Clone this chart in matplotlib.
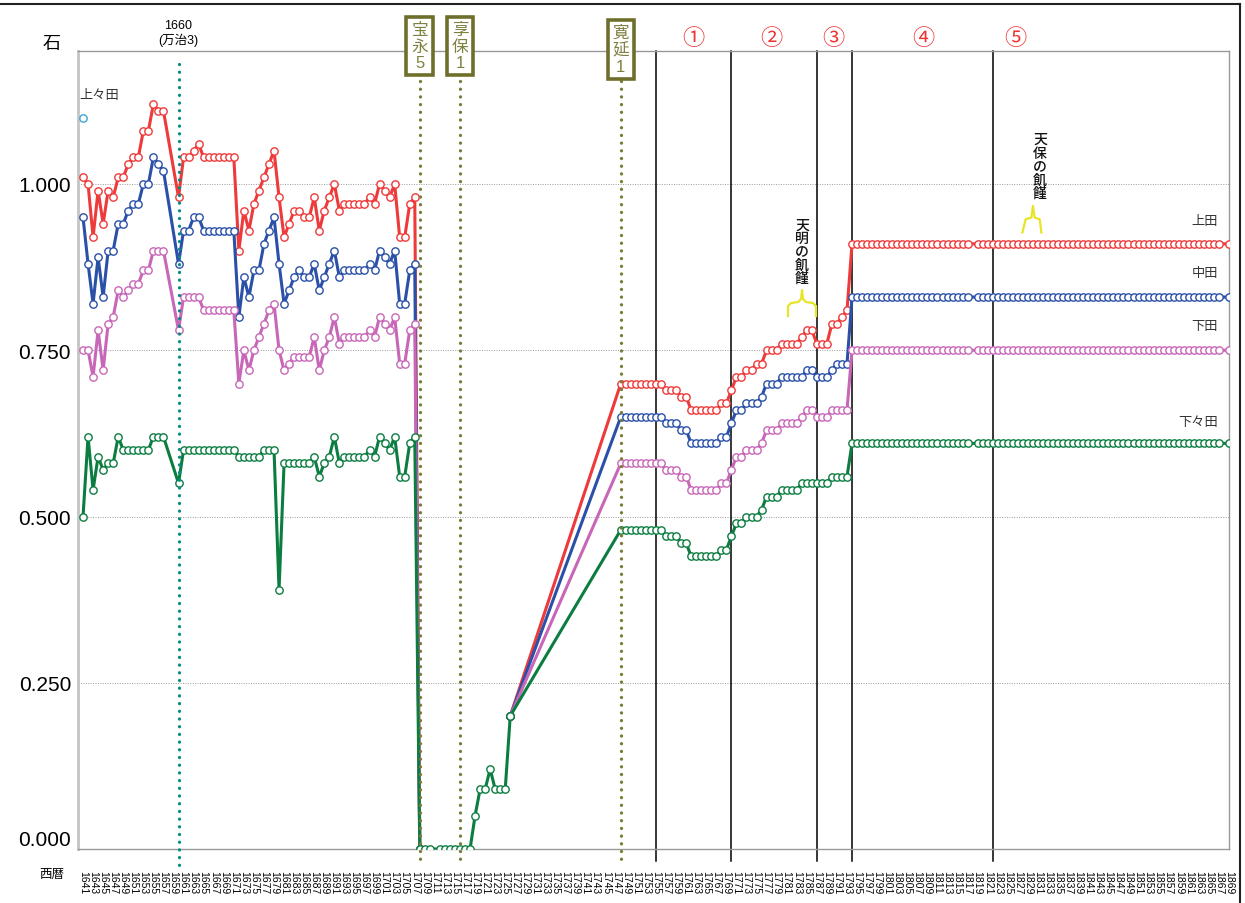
import numpy as np
import matplotlib.pyplot as plt
import matplotlib.transforms as mtransforms
from matplotlib.lines import Line2D

plt.rcParams['font.family'] = ['Liberation Sans', 'Noto Sans CJK JP', 'DejaVu Sans']

# ---------------- data (石) ----------------
# 1641-1708, nothing recorded for 1658-1659
early_years = list(range(1641, 1658)) + list(range(1660, 1709))

red_early = [1.01, 1.00, 0.92, 0.99, 0.94, 0.99, 0.98, 1.01, 1.01, 1.03,
             1.04, 1.04, 1.08, 1.08, 1.12, 1.11, 1.11,
             0.98, 1.04, 1.04, 1.05, 1.06, 1.04, 1.04, 1.04, 1.04, 1.04,
             1.04, 1.04, 0.90, 0.96, 0.93, 0.97, 0.99, 1.01, 1.03, 1.05,
             0.98, 0.92, 0.94, 0.96, 0.96, 0.95, 0.95, 0.98, 0.93, 0.96,
             0.98, 1.00, 0.96, 0.97, 0.97, 0.97, 0.97, 0.97, 0.98, 0.97,
             1.00, 0.99, 0.98, 1.00, 0.92, 0.92, 0.97, 0.98, 0.00]
blue_early = [0.95, 0.88, 0.82, 0.89, 0.83, 0.90, 0.90, 0.94, 0.94, 0.96,
              0.97, 0.97, 1.00, 1.00, 1.04, 1.03, 1.02,
              0.88, 0.93, 0.93, 0.95, 0.95, 0.93, 0.93, 0.93, 0.93, 0.93,
              0.93, 0.93, 0.80, 0.86, 0.83, 0.87, 0.87, 0.91, 0.93, 0.95,
              0.88, 0.82, 0.84, 0.86, 0.87, 0.86, 0.86, 0.88, 0.84, 0.86,
              0.88, 0.90, 0.86, 0.87, 0.87, 0.87, 0.87, 0.87, 0.88, 0.87,
              0.90, 0.89, 0.88, 0.90, 0.82, 0.82, 0.87, 0.88, 0.00]
purple_early = [0.75, 0.75, 0.71, 0.78, 0.72, 0.79, 0.80, 0.84, 0.83, 0.84,
                0.85, 0.85, 0.87, 0.87, 0.90, 0.90, 0.90,
                0.78, 0.83, 0.83, 0.83, 0.83, 0.81, 0.81, 0.81, 0.81, 0.81,
                0.81, 0.81, 0.70, 0.75, 0.72, 0.75, 0.77, 0.79, 0.81, 0.82,
                0.75, 0.72, 0.73, 0.74, 0.74, 0.74, 0.74, 0.77, 0.72, 0.75,
                0.77, 0.80, 0.76, 0.77, 0.77, 0.77, 0.77, 0.77, 0.78, 0.77,
                0.80, 0.79, 0.78, 0.80, 0.73, 0.73, 0.78, 0.79, 0.00]
green_early = [0.50, 0.62, 0.54, 0.59, 0.57, 0.58, 0.58, 0.62, 0.60, 0.60,
               0.60, 0.60, 0.60, 0.60, 0.62, 0.62, 0.62,
               0.55, 0.60, 0.60, 0.60, 0.60, 0.60, 0.60, 0.60, 0.60, 0.60,
               0.60, 0.60, 0.59, 0.59, 0.59, 0.59, 0.59, 0.60, 0.60, 0.60,
               0.39, 0.58, 0.58, 0.58, 0.58, 0.58, 0.58, 0.59, 0.56, 0.58,
               0.59, 0.62, 0.58, 0.59, 0.59, 0.59, 0.59, 0.59, 0.60, 0.59,
               0.62, 0.61, 0.60, 0.62, 0.56, 0.56, 0.61, 0.62, 0.00]

# 下々田 only, 1708-1726 (1711 missing)
mid_years = [1708, 1709, 1710] + list(range(1712, 1727))
green_mid = [0.00, 0.00, 0.00, 0.00, 0.00, 0.00, 0.00, 0.00, 0.00, 0.00,
             0.05, 0.09, 0.09, 0.12, 0.09, 0.09, 0.09, 0.20]

# 1726, then 1748-1793
step_years = [1726] + list(range(1748, 1794))
red_steps = [0.20,
             0.70, 0.70, 0.70, 0.70, 0.70, 0.70, 0.70, 0.70, 0.70, 0.69,
             0.69, 0.69, 0.68, 0.68, 0.66, 0.66, 0.66, 0.66, 0.66, 0.66,
             0.67, 0.67, 0.69, 0.71, 0.71, 0.72, 0.72, 0.73, 0.73, 0.75,
             0.75, 0.75, 0.76, 0.76, 0.76, 0.76, 0.77, 0.78, 0.78, 0.76,
             0.76, 0.76, 0.79, 0.79, 0.80, 0.81]
blue_steps = [0.20,
              0.65, 0.65, 0.65, 0.65, 0.65, 0.65, 0.65, 0.65, 0.65, 0.64,
              0.64, 0.64, 0.63, 0.63, 0.61, 0.61, 0.61, 0.61, 0.61, 0.61,
              0.62, 0.62, 0.64, 0.66, 0.66, 0.67, 0.67, 0.67, 0.68, 0.70,
              0.70, 0.70, 0.71, 0.71, 0.71, 0.71, 0.71, 0.72, 0.72, 0.71,
              0.71, 0.71, 0.72, 0.73, 0.73, 0.73]
purple_steps = [0.20,
                0.58, 0.58, 0.58, 0.58, 0.58, 0.58, 0.58, 0.58, 0.58, 0.57,
                0.57, 0.57, 0.56, 0.56, 0.54, 0.54, 0.54, 0.54, 0.54, 0.54,
                0.55, 0.55, 0.57, 0.59, 0.59, 0.60, 0.60, 0.60, 0.61, 0.63,
                0.63, 0.63, 0.64, 0.64, 0.64, 0.64, 0.65, 0.66, 0.66, 0.65,
                0.65, 0.65, 0.66, 0.66, 0.66, 0.66]
green_steps = [0.20,
               0.48, 0.48, 0.48, 0.48, 0.48, 0.48, 0.48, 0.48, 0.48, 0.47,
               0.47, 0.47, 0.46, 0.46, 0.44, 0.44, 0.44, 0.44, 0.44, 0.44,
               0.45, 0.45, 0.47, 0.49, 0.49, 0.50, 0.50, 0.50, 0.51, 0.53,
               0.53, 0.53, 0.54, 0.54, 0.54, 0.54, 0.55, 0.55, 0.55, 0.55,
               0.55, 0.55, 0.56, 0.56, 0.56, 0.56]

# 1794-1869 (1818 and 1868 missing)
plateau_years = list(range(1794, 1818)) + list(range(1819, 1868)) + [1869]
red_plateau = [0.91, 0.91, 0.91, 0.91, 0.91, 0.91, 0.91, 0.91, 0.91, 0.91, 0.91, 0.91, 0.91, 0.91, 0.91,
               0.91, 0.91, 0.91, 0.91, 0.91, 0.91, 0.91, 0.91, 0.91, 0.91, 0.91, 0.91, 0.91, 0.91, 0.91,
               0.91, 0.91, 0.91, 0.91, 0.91, 0.91, 0.91, 0.91, 0.91, 0.91, 0.91, 0.91, 0.91, 0.91, 0.91,
               0.91, 0.91, 0.91, 0.91, 0.91, 0.91, 0.91, 0.91, 0.91, 0.91, 0.91, 0.91, 0.91, 0.91, 0.91,
               0.91, 0.91, 0.91, 0.91, 0.91, 0.91, 0.91, 0.91, 0.91, 0.91, 0.91, 0.91, 0.91, 0.91]
blue_plateau = [0.83, 0.83, 0.83, 0.83, 0.83, 0.83, 0.83, 0.83, 0.83, 0.83, 0.83, 0.83, 0.83, 0.83, 0.83,
                0.83, 0.83, 0.83, 0.83, 0.83, 0.83, 0.83, 0.83, 0.83, 0.83, 0.83, 0.83, 0.83, 0.83, 0.83,
                0.83, 0.83, 0.83, 0.83, 0.83, 0.83, 0.83, 0.83, 0.83, 0.83, 0.83, 0.83, 0.83, 0.83, 0.83,
                0.83, 0.83, 0.83, 0.83, 0.83, 0.83, 0.83, 0.83, 0.83, 0.83, 0.83, 0.83, 0.83, 0.83, 0.83,
                0.83, 0.83, 0.83, 0.83, 0.83, 0.83, 0.83, 0.83, 0.83, 0.83, 0.83, 0.83, 0.83, 0.83]
purple_plateau = [0.75, 0.75, 0.75, 0.75, 0.75, 0.75, 0.75, 0.75, 0.75, 0.75, 0.75, 0.75, 0.75, 0.75, 0.75,
                  0.75, 0.75, 0.75, 0.75, 0.75, 0.75, 0.75, 0.75, 0.75, 0.75, 0.75, 0.75, 0.75, 0.75, 0.75,
                  0.75, 0.75, 0.75, 0.75, 0.75, 0.75, 0.75, 0.75, 0.75, 0.75, 0.75, 0.75, 0.75, 0.75, 0.75,
                  0.75, 0.75, 0.75, 0.75, 0.75, 0.75, 0.75, 0.75, 0.75, 0.75, 0.75, 0.75, 0.75, 0.75, 0.75,
                  0.75, 0.75, 0.75, 0.75, 0.75, 0.75, 0.75, 0.75, 0.75, 0.75, 0.75, 0.75, 0.75, 0.75]
green_plateau = [0.61, 0.61, 0.61, 0.61, 0.61, 0.61, 0.61, 0.61, 0.61, 0.61, 0.61, 0.61, 0.61, 0.61, 0.61,
                 0.61, 0.61, 0.61, 0.61, 0.61, 0.61, 0.61, 0.61, 0.61, 0.61, 0.61, 0.61, 0.61, 0.61, 0.61,
                 0.61, 0.61, 0.61, 0.61, 0.61, 0.61, 0.61, 0.61, 0.61, 0.61, 0.61, 0.61, 0.61, 0.61, 0.61,
                 0.61, 0.61, 0.61, 0.61, 0.61, 0.61, 0.61, 0.61, 0.61, 0.61, 0.61, 0.61, 0.61, 0.61, 0.61,
                 0.61, 0.61, 0.61, 0.61, 0.61, 0.61, 0.61, 0.61, 0.61, 0.61, 0.61, 0.61, 0.61, 0.61]

# 上々田: a single value
top_year = [1641]
top_value = [1.10]

series_names = ['上田', '中田', '下田', '下々田']
series_colors = ['#ee3a3a', '#2a50a8', '#c867b8', '#0b7d40']
name_pos = [(1866.8, 0.944), (1866.8, 0.866), (1866.8, 0.786), (1866.8, 0.642)]

tick_years = list(range(1641, 1870, 2))

# periods: black separators and circled numbers
period_lines = [1755, 1770, 1787, 1794, 1822]
period_marks = ['①', '②', '③', '④', '⑤']
period_mark_x = [1762.4, 1777.9, 1790.2, 1808.1, 1826.4]

# era boxes
era_years = [1708, 1716, 1748]
era_names = ['宝\n永\n5', '享\n保\n1', '寛\n延\n1']

# ---------------- figure ----------------
fig = plt.figure(figsize=(12.45, 9.04), dpi=100)
ax = fig.add_axes([78/1245, 1 - 850/904, (1229 - 78)/1245, (850 - 52)/904])
ax.set_xlim(1640, 1869)
ax.set_ylim(0, 1.2)

style = dict(lw=2.2, marker='o', ms=5.3, mfc='white', mew=1.0, solid_joinstyle='miter')

early_sets = [red_early, blue_early, purple_early, green_early]
step_sets = [red_steps, blue_steps, purple_steps, green_steps]
plateau_sets = [red_plateau, blue_plateau, purple_plateau, green_plateau]
for i, c in enumerate(series_colors):
    ax.plot(early_years, early_sets[i], color=c, mec=c, zorder=3 + i, **style)
    ax.plot(step_years + plateau_years, step_sets[i] + plateau_sets[i],
            color=c, mec=c, zorder=3 + i, **style)
ax.plot(mid_years, green_mid, color=series_colors[3], mec=series_colors[3], zorder=7, **style)
ax.plot(top_year, top_value, ls='none', marker='o', ms=5.3, mfc='white', mec='#3aa6d8', mew=1.0, zorder=7)

# series names
for name, (xx, yy) in zip(series_names, name_pos):
    ax.text(xx, yy, name, ha='right', va='center', fontsize=9.5, color='#333333')
ax.text(1640.3, 1.134, '上々田', ha='left', va='center', fontsize=9.5, color='#333333')

# axes cosmetics
ax.set_yticks([0, 0.25, 0.5, 0.75, 1.0])
ax.set_yticklabels(['0.000', '0.250', '0.500', '0.750', '1.000'])
ax.tick_params(axis='y', length=0, pad=5, labelsize=15)
ax.yaxis.get_ticklabels()[0].set_verticalalignment('bottom')
ax.yaxis.grid(True, linestyle=(0, (1, 1.5)), color='#9a9a9a', lw=0.7)
ax.set_xticks(tick_years)
ax.set_xticklabels([str(y) for y in tick_years], rotation=-90, fontsize=7.5)
ax.tick_params(axis='x', length=0, pad=15)
for side in ['top', 'right', 'bottom']:
    ax.spines[side].set_color('#999999')
    ax.spines[side].set_linewidth(1.0)
ax.spines['left'].set_color('#c4c4c4')
ax.spines['left'].set_linewidth(2.0)

xt = ax.get_xaxis_transform()

# 1660 line
ax.plot([1660, 1660], [0.984, -0.02], transform=xt, color='#0a8a88', lw=2.4,
        ls=(0, (0.01, 2.3)), dash_capstyle='round', clip_on=False, zorder=8)
ax.text(1660, 1.023, '1660\n(万治3)', transform=xt, ha='center', va='center',
        fontsize=9, linespacing=1.2)

# era lines and boxes
olive = '#7b7b35'
for yr, nm in zip(era_years, era_names):
    ax.plot([yr, yr], [0.962, -0.02], transform=xt, color=olive, lw=2.4,
            ls=(0, (0.01, 2.3)), dash_capstyle='round', clip_on=False, zorder=8)
    ax.text(yr, 1.006 if yr < 1740 else 1.002, nm, transform=xt, ha='center', va='center',
            fontsize=12, color='#808040', linespacing=1.12, zorder=9,
            bbox=dict(boxstyle='square,pad=0.3', fc='white', ec='#6f6f2c', lw=2.6))

# period separators
for yr in period_lines:
    ax.plot([yr, yr], [1.0, -0.015], transform=xt, color='black', lw=1.1,
            clip_on=False, zorder=2)
for mk, xx in zip(period_marks, period_mark_x):
    ax.text(xx, 1.0175, mk, transform=xt, ha='center', va='center', fontsize=16,
            color='#ee3333', family=['Noto Sans CJK JP', 'DejaVu Sans'])

# famine notes
ax.text(1784.05, 0.899, '天\n明\nの\n飢\n饉', ha='center', va='center', fontsize=10,
        linespacing=0.95, fontweight='medium', color='#111111')
ax.text(1831.4, 1.027, '天\n保\nの\n飢\n饉', ha='center', va='center', fontsize=10,
        linespacing=0.95, fontweight='medium', color='#111111')


def brace(xd, yd, pts):
    tr = fig.dpi_scale_trans + mtransforms.ScaledTranslation(xd, yd, ax.transData)
    xs = [p[0] / 100 for p in pts]
    ys = [p[1] / 100 for p in pts]
    ax.add_line(Line2D(xs, ys, transform=tr, color='#e6e628', lw=1.6, clip_on=False))


brace(1784.05, 0.821, [(-14, -13), (-14, -3), (-11, 0), (-4, 1), (-1, 4), (0, 13),
                       (1, 4), (4, 1), (11, 0), (14, -3), (14, -13)])
brace(1830.0, 0.947, [(-10.6, -13.3), (-7.3, 0), (-1.6, 1.7), (0, 13.3),
                      (1.7, 1.7), (6.7, 0), (8.4, -13.3)])

# unit labels
ax.text(-0.0226, 1.0088, '石', transform=ax.transAxes, ha='center', va='center', fontsize=13)
ax.text(-0.0226, -0.0313, '西暦', transform=ax.transAxes, ha='center', va='center', fontsize=9)

# outer frame (top and right only)
fig.add_artist(Line2D([0, 1240/1245], [1 - 5/904, 1 - 5/904], transform=fig.transFigure,
                      color='#222222', lw=1.5))
fig.add_artist(Line2D([1240/1245, 1240/1245], [0, 1 - 5/904], transform=fig.transFigure,
                      color='#222222', lw=1.5))

fig.savefig('out.png', dpi=100)
